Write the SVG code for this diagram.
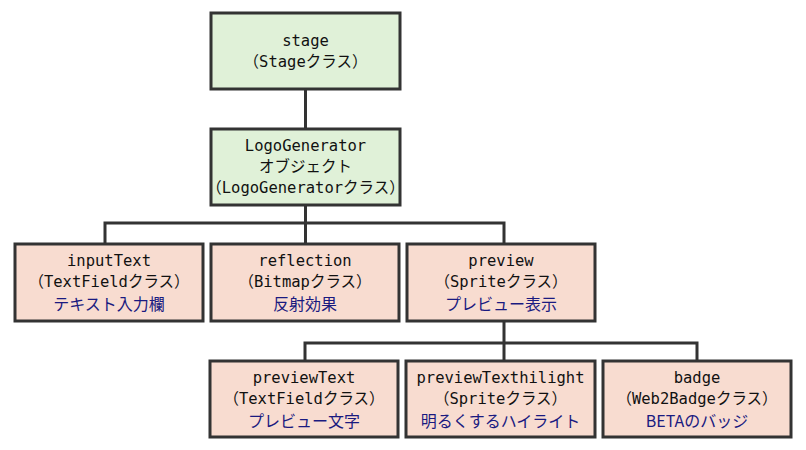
<svg xmlns="http://www.w3.org/2000/svg" width="806" height="450" viewBox="0 0 806 450">
<style>
.g{fill:#e0f1d8;stroke:#333;stroke-width:3}
.p{fill:#f8dcd0;stroke:#333;stroke-width:3}
.c{fill:none;stroke:#333;stroke-width:3}
text{font-family:"DejaVu Sans Mono","Noto Sans CJK JP",monospace;font-size:15.5px;fill:#111;text-anchor:middle}
text.b{font-family:"Noto Sans CJK JP",sans-serif;font-size:16px;fill:#1a1a80}
</style>
<rect width="806" height="450" fill="#fff"/>
<g id="connectors">
<path class="c" d="M305.5 89V129M305.5 205V223M105 244V223H504V244M305.5 223V244M504 321V343M305 361V343H697V361M504 343V361"/>
</g>
<g id="stage"><rect class="g" x="211" y="13" width="189" height="76"/><text x="305.5" y="46">stage</text><text x="305.5" y="67">（Stageクラス）</text></g>
<g id="logogen"><rect class="g" x="211" y="129" width="189" height="76"/><text x="305.5" y="151">LogoGenerator</text><text x="305.5" y="172">オブジェクト</text><text x="305.5" y="193">（LogoGeneratorクラス）</text></g>
<g id="inputText"><rect class="p" x="15" y="244" width="188" height="77"/><text x="109" y="266">inputText</text><text x="109" y="287">（TextFieldクラス）</text><text class="b" x="109" y="310">テキスト入力欄</text></g>
<g id="reflection"><rect class="p" x="211" y="244" width="188" height="77"/><text x="305" y="266">reflection</text><text x="305" y="287">（Bitmapクラス）</text><text class="b" x="305" y="310">反射効果</text></g>
<g id="preview"><rect class="p" x="407" y="244" width="188" height="77"/><text x="501" y="266">preview</text><text x="501" y="287">（Spriteクラス）</text><text class="b" x="501" y="310">プレビュー表示</text></g>
<g id="previewText"><rect class="p" x="210" y="361" width="188" height="76"/><text x="304" y="383">previewText</text><text x="304" y="404">（TextFieldクラス）</text><text class="b" x="304" y="427">プレビュー文字</text></g>
<g id="previewTexthilight"><rect class="p" x="406" y="361" width="189" height="76"/><text x="500.5" y="383">previewTexthilight</text><text x="500.5" y="404">（Spriteクラス）</text><text class="b" x="500.5" y="427">明るくするハイライト</text></g>
<g id="badge"><rect class="p" x="603" y="361" width="188" height="76"/><text x="697" y="383">badge</text><text x="697" y="404">（Web2Badgeクラス）</text><text class="b" x="697" y="427">BETAのバッジ</text></g>
</svg>
